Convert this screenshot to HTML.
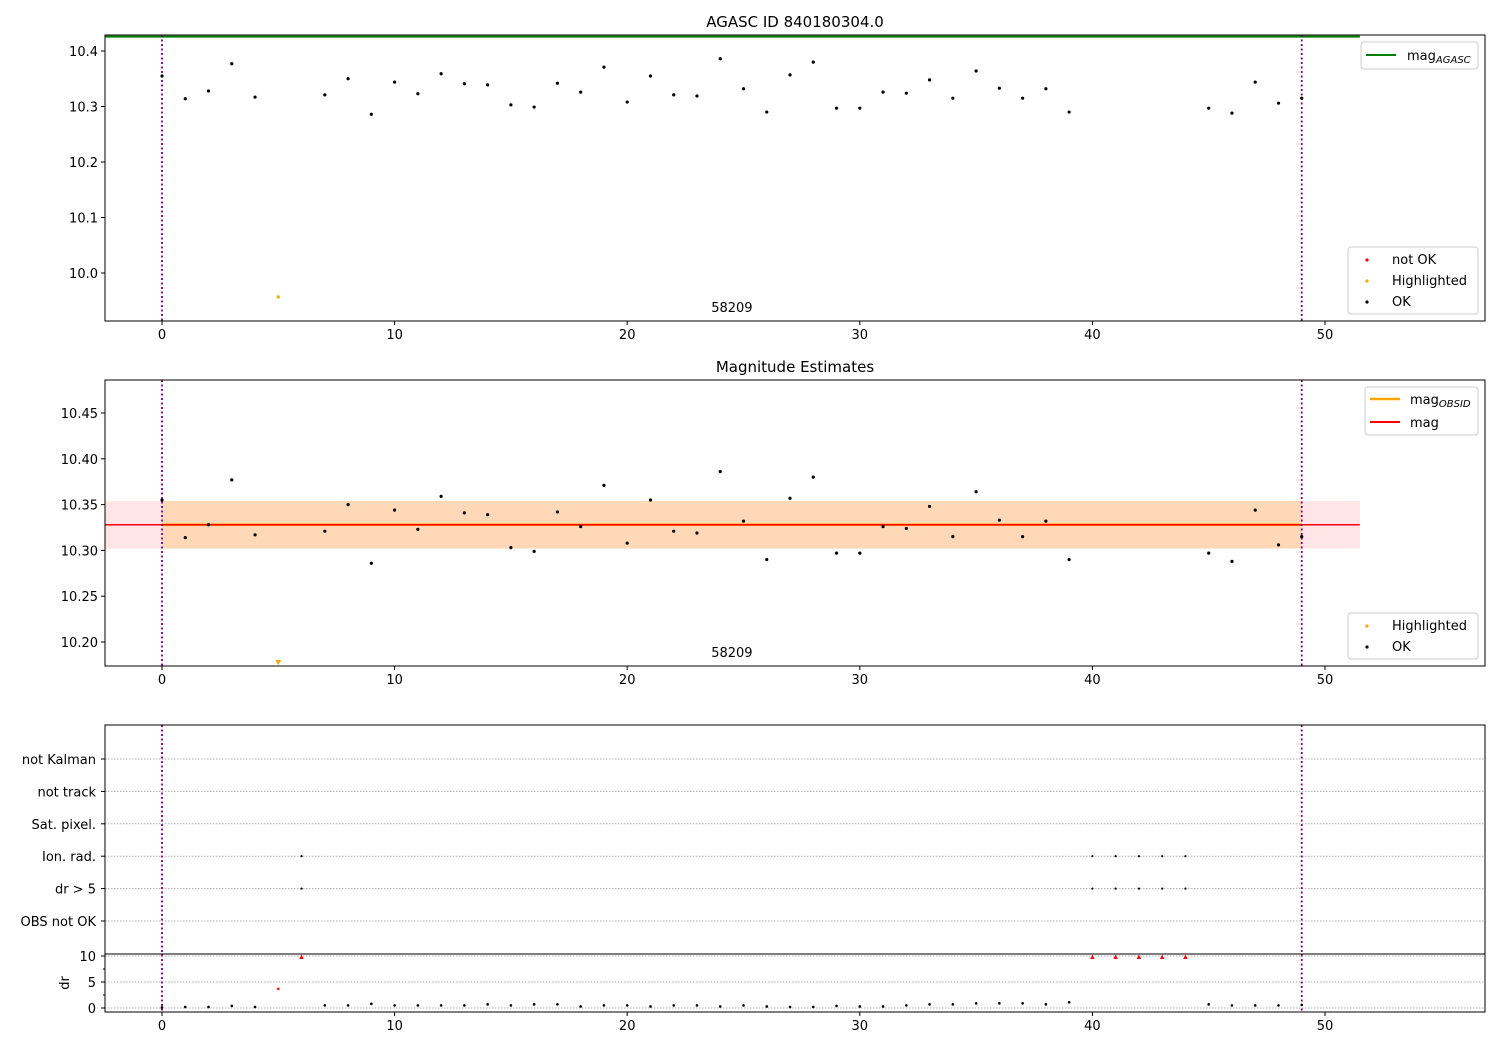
<!DOCTYPE html>
<html><head><meta charset="utf-8"><style>
html,body{margin:0;padding:0;background:#fff;}
svg{display:block;font-family:"DejaVu Sans","Liberation Sans",sans-serif;}
</style></head><body>
<svg id="chart" width="1500" height="1050" viewBox="0 0 1500 1050" xmlns="http://www.w3.org/2000/svg"></svg>
<script>
const xs = [0,1,2,3,4,5,7,8,9,10,11,12,13,14,15,16,17,18,19,20,21,22,23,24,25,26,27,28,29,30,31,32,33,34,35,36,37,38,39,45,46,47,48,49];
const mags = [10.355,10.314,10.328,10.377,10.317,9.957,10.321,10.350,10.286,10.344,10.323,10.359,10.341,10.339,10.303,10.299,10.342,10.326,10.371,10.308,10.355,10.321,10.319,10.386,10.332,10.290,10.357,10.380,10.297,10.297,10.326,10.324,10.348,10.315,10.364,10.333,10.315,10.332,10.290,10.297,10.288,10.344,10.306,10.315];
const highlightedIdx = [5];
const drX = [0,1,2,3,4,7,8,9,10,11,12,13,14,15,16,17,18,19,20,21,22,23,24,25,26,27,28,29,30,31,32,33,34,35,36,37,38,39,45,46,47,48,49];
const drVals = [0.1,0.2,0.2,0.4,0.2,0.5,0.5,0.8,0.5,0.5,0.5,0.5,0.7,0.5,0.7,0.7,0.3,0.5,0.5,0.3,0.5,0.5,0.3,0.5,0.3,0.2,0.2,0.4,0.3,0.3,0.5,0.7,0.7,0.9,0.9,0.9,0.7,1.1,0.7,0.5,0.5,0.5,0.6];
const drBadX = [5,6,40,41,42,43,44];
const drBadVals = [3.7,9.8,9.8,9.8,9.8,9.8,9.8];
const flagCats = ["not Kalman","not track","Sat. pixel.","Ion. rad.","dr > 5","OBS not OK"];
const flagX = [6,40,41,42,43,44];
const flagRowsHit = ["Ion. rad.","dr > 5"];
const magAgasc = 10.426;
const magObsid = 10.328;
const magMean = 10.328;
const magStd = 0.026;
const obsLines = [0,49];
const xTicks = [0,10,20,30,40,50];
const p1Ticks = [10.0,10.1,10.2,10.3,10.4];
const p2Ticks = [10.20,10.25,10.30,10.35,10.40,10.45];
const drTicks = [0,5,10];

const svg = document.getElementById('chart');
const NS = 'http://www.w3.org/2000/svg';
function mk(tag, attrs, parent){const e=document.createElementNS(NS,tag);for(const k in attrs)e.setAttribute(k,attrs[k]);(parent||svg).appendChild(e);return e;}
function txt(s, attrs, parent){const e=mk('text',attrs,parent);e.textContent=s;return e;}

const L=105,R=1485;
const X = v => 162 + v*(1325-162)/50;

function yScale(v0,p0,v1,p1){return v=>p0+(v-v0)*(p1-p0)/(v1-v0);}

function axisX(top,bot,name){
  const g=mk('g',{});
  
  
  xTicks.forEach(t=>{mk('line',{x1:X(t),x2:X(t),y1:bot,y2:bot+4,stroke:'#000'},g);
    txt(String(t),{x:X(t),y:bot+18,'font-size':13,'text-anchor':'middle'},g);});
}
function vlines(top,bot){
  obsLines.forEach(v=>{const l=mk('line',{x1:X(v),x2:X(v),y1:top,y2:bot,stroke:'#800080','stroke-width':1.8,'stroke-dasharray':'2,2.5'});
  });
}
function frame(top,bot,name){const r=mk('rect',{x:L,y:top,width:R-L,height:bot-top,fill:'none',stroke:'#000','stroke-width':1});}
function dot(x,y,c,r){const d=mk('circle',{cx:x,cy:y,r:r||1.6,fill:c});return d;}

// ---- Panel 1
{
  const top=35,bot=321;const Y=yScale(10.0,273,10.4,51);
  txt('AGASC ID 840180304.0',{x:795,y:27,'font-size':15,'text-anchor':'middle',});
  p1Ticks.forEach(t=>{mk('line',{x1:L-4,x2:L,y1:Y(t),y2:Y(t),stroke:'#000'});txt(t.toFixed(1),{x:L-7,y:Y(t)+5,'font-size':13,'text-anchor':'end'});});
  const gl=mk('line',{x1:L,x2:X(51.5),y1:Y(magAgasc),y2:Y(magAgasc),stroke:'#008000','stroke-width':2});
  
  vlines(top,bot);
  xs.forEach((x,i)=>{const y=Y(mags[i]);if(y<top||y>bot)return;const d=dot(X(x),y,highlightedIdx.includes(i)?'orange':'#000');
    });
  txt('58209',{x:X(24.5),y:312,'font-size':13,'text-anchor':'middle'});
  frame(top,bot,'panel-1-axes');axisX(top,bot,'panel-1-x-axis');
  const lg=mk('g',{});
  mk('rect',{x:1361,y:42,width:117,height:27,rx:3,fill:'#fff',stroke:'#ccc'},lg);
  mk('line',{x1:1366,x2:1396,y1:55,y2:55,stroke:'#008000','stroke-width':2},lg);
  const t=txt('mag',{x:1407,y:60,'font-size':13},lg);const s=mk('tspan',{'font-size':10,'font-style':'italic',dy:3},t);s.textContent='AGASC';
  const lg2=mk('g',{});
  mk('rect',{x:1348,y:247,width:130,height:67,rx:3,fill:'#fff',stroke:'#ccc'},lg2);
  [['not OK','red'],['Highlighted','orange'],['OK','#000']].forEach((e,i)=>{mk('circle',{cx:1367,cy:260+i*21,r:1.6,fill:e[1]},lg2);txt(e[0],{x:1392,y:264+i*21,'font-size':13},lg2);});
}
// ---- Panel 2
{
  const top=380,bot=666;const Y=yScale(10.20,642,10.45,413);
  txt('Magnitude Estimates',{x:795,y:372,'font-size':15,'text-anchor':'middle'});
  p2Ticks.forEach(t=>{mk('line',{x1:L-4,x2:L,y1:Y(t),y2:Y(t),stroke:'#000'});txt(t.toFixed(2),{x:L-7,y:Y(t)+5,'font-size':13,'text-anchor':'end'});});
  const b1=mk('rect',{x:L,y:Y(magMean+magStd),width:X(51.5)-L,height:Y(magMean-magStd)-Y(magMean+magStd),fill:'rgba(255,0,0,0.1)'});
  
  const b2=mk('rect',{x:X(0),y:Y(magObsid+magStd),width:X(49)-X(0),height:Y(magObsid-magStd)-Y(magObsid+magStd),fill:'rgba(255,165,0,0.2)'});
  
  const ol=mk('line',{x1:X(0),x2:X(49),y1:Y(magObsid),y2:Y(magObsid),stroke:'orange','stroke-width':2.5});
  
  const rl=mk('line',{x1:L,x2:X(51.5),y1:Y(magMean),y2:Y(magMean),stroke:'red','stroke-width':1.5});
  
  vlines(top,bot);
  xs.forEach((x,i)=>{let y=Y(mags[i]);const h=highlightedIdx.includes(i);
    if(y>bot-3){const px=X(x);const tri=mk('path',{d:`M${px-3},${bot-6}L${px+3},${bot-6}L${px},${bot-1}Z`,fill:'orange'});
      return;}
    const d=dot(X(x),y,h?'orange':'#000');});
  txt('58209',{x:X(24.5),y:657,'font-size':13,'text-anchor':'middle'});
  frame(top,bot,'panel-2-axes');axisX(top,bot,'panel-2-x-axis');
  const lg=mk('g',{});
  mk('rect',{x:1365,y:387,width:113,height:48,rx:3,fill:'#fff',stroke:'#ccc'},lg);
  mk('line',{x1:1370,x2:1400,y1:399,y2:399,stroke:'orange','stroke-width':2.5},lg);
  const t=txt('mag',{x:1410,y:404,'font-size':13},lg);const s=mk('tspan',{'font-size':10,'font-style':'italic',dy:3},t);s.textContent='OBSID';
  mk('line',{x1:1370,x2:1400,y1:422,y2:422,stroke:'red','stroke-width':2},lg);
  txt('mag',{x:1410,y:427,'font-size':13},lg);
  const lg2=mk('g',{});
  mk('rect',{x:1348,y:613,width:130,height:46,rx:3,fill:'#fff',stroke:'#ccc'},lg2);
  [['Highlighted','orange'],['OK','#000']].forEach((e,i)=>{mk('circle',{cx:1367,cy:626+i*21,r:1.6,fill:e[1]},lg2);txt(e[0],{x:1392,y:630+i*21,'font-size':13},lg2);});
}
// ---- Panel 3 flags
{
  const top=725,mid=954,bot=1012;
  const rowY = i => 759 + i*32.4;
  flagCats.forEach((c,i)=>{const y=rowY(i);mk('line',{x1:L,x2:R,y1:y,y2:y,stroke:'#b0b0b0','stroke-dasharray':'1.5,1.5'});
    mk('line',{x1:L-4,x2:L,y1:y,y2:y,stroke:'#000'});
    const t=txt(c,{x:L-9,y:y+5,'font-size':13,'text-anchor':'end'});});
  flagRowsHit.forEach(c=>{const i=flagCats.indexOf(c);flagX.forEach(x=>{const d=dot(X(x),rowY(i),'#000',1.1);});});
  const Y=yScale(0,1008,10,956);
  drTicks.forEach(t=>{mk('line',{x1:L,x2:R,y1:Y(t),y2:Y(t),stroke:'#b0b0b0','stroke-dasharray':'1.5,1.5'});
    mk('line',{x1:L-4,x2:L,y1:Y(t),y2:Y(t),stroke:'#000'});txt(String(t),{x:L-9,y:Y(t)+5,'font-size':13,'text-anchor':'end'});});
  [2.5,7.5].forEach(t=>mk('line',{x1:L-2,x2:L,y1:Y(t),y2:Y(t),stroke:'#000'}));
  txt('dr',{x:0,y:0,'font-size':13,'text-anchor':'middle',transform:`translate(69,983) rotate(-90)`});
  vlines(top,bot);
  drX.forEach((x,i)=>{const d=dot(X(x),Y(drVals[i]),'#000',1.3);});
  drBadX.forEach((x,i)=>{const px=X(x),py=Y(drBadVals[i]);let e;
    if(drBadVals[i]>8){e=mk('path',{d:`M${px-2.2},${py+2}L${px+2.2},${py+2}L${px},${py-2.5}Z`,fill:'red'});}else{e=dot(px,py,'red',1.3);}
    });
  frame(top,bot,'panel-3-axes');
  mk('line',{x1:L,x2:R,y1:mid,y2:mid,stroke:'#000','stroke-width':1});
  axisX(top,bot,'panel-3-x-axis');
}
</script>
</body></html>
